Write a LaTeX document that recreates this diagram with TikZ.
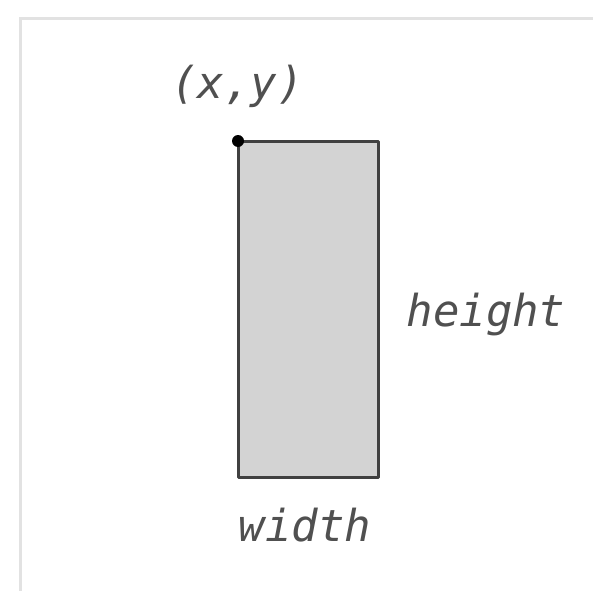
\documentclass[tikz,border=0pt]{standalone}
\usepackage{fontspec}
\setmonofont{DejaVu Sans Mono}
\usepackage{xcolor}
\usetikzlibrary{positioning}
\definecolor{framegray}{RGB}{226,226,226}
\definecolor{boxfill}{RGB}{211,211,211}
\definecolor{boxline}{RGB}{64,64,64}
\definecolor{labelgray}{RGB}{80,80,80}

\begin{document}
\begin{tikzpicture}[
    x=1pt, y=-1pt,
    rectbox/.style={draw=boxline, fill=boxfill, line width=3pt, line join=round, minimum width=140pt, minimum height=336pt, inner sep=0pt, outer sep=0pt},
    cornerdot/.style={circle, fill=black, inner sep=0pt, minimum size=12pt},
    lbl/.style={font=\fontsize{44}{48}\selectfont\ttfamily\itshape, text=labelgray, inner sep=0pt}
]
\useasboundingbox (0,0) rectangle (593,591);

% frame
\draw[framegray, line width=3pt] (20.5,591) -- (20.5,18.5) -- (593,18.5);

% rectangle and its corner
\node[rectbox] (rect) at (308,309) {};
\node[cornerdot] (corner) at (rect.north west) {};

% labels
\node[lbl] (xy) at (237.5,86) {(x,y)};
\node[lbl] (height) at (486,315) {height};
\node[lbl] (width) at (305,525) {width};

\end{tikzpicture}
\end{document}
